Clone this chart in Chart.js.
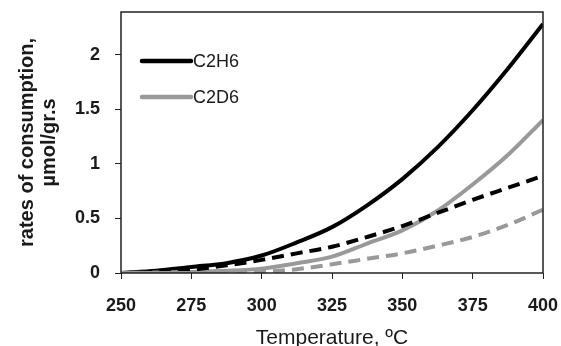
<!DOCTYPE html>
<html>
<head>
<meta charset="utf-8">
<script src="https://cdn.jsdelivr.net/npm/chart.js@4"></script>
<style>
  html, body { margin: 0; padding: 0; background: #fff; }
  #wrap { width: 561px; height: 346px; }
</style>
</head>
<body>
<div id="wrap"><canvas id="chart"></canvas></div>
<script>
// === DATA ===
const temps = [250, 262.5, 275, 287.5, 300, 312.5, 325, 337.5, 350, 362.5, 375, 387.5, 400];
const c2h6 = [0, 0.02, 0.055, 0.09, 0.16, 0.28, 0.42, 0.62, 0.86, 1.15, 1.49, 1.87, 2.28];
const c2d6 = [0, 0.005, 0.01, 0.02, 0.04, 0.09, 0.15, 0.27, 0.39, 0.57, 0.81, 1.08, 1.4];
const c2h6Dash = [0, 0.01, 0.03, 0.07, 0.12, 0.18, 0.24, 0.33, 0.43, 0.55, 0.67, 0.78, 0.89];
const c2d6Dash = [0, 0, 0, 0.005, 0.01, 0.035, 0.08, 0.13, 0.18, 0.25, 0.33, 0.44, 0.58];
const xTicks = [250, 275, 300, 325, 350, 375, 400];
const yTicks = [0, 0.5, 1, 1.5, 2];

const BLACK = '#000000';
const GRAY = '#999999';
const FONT = '"Liberation Sans", Arial, sans-serif';
const pts = arr => arr.map((v, i) => ({ x: temps[i], y: v }));

// === LEGEND + FRAME ===
const framePlugin = {
  id: 'frame',
  afterDatasetsDraw(chart) {
    const { ctx, chartArea: a } = chart;
    ctx.save();
    ctx.strokeStyle = '#222';
    ctx.lineWidth = 1.5;
    ctx.strokeRect(a.left, a.top, a.right - a.left, a.bottom - a.top);

    const items = [{ label: 'C2H6', color: BLACK, y: 61 }, { label: 'C2D6', color: GRAY, y: 97 }];
    ctx.font = '18px ' + FONT;
    ctx.textBaseline = 'middle';
    items.forEach(it => {
      ctx.strokeStyle = it.color;
      ctx.lineWidth = 4.5;
      ctx.lineCap = 'round';
      ctx.beginPath();
      ctx.moveTo(142, it.y);
      ctx.lineTo(191, it.y);
      ctx.stroke();
      ctx.fillStyle = '#1a1a1a';
      ctx.fillText(it.label, 193, it.y + 1);
    });
    ctx.restore();
  }
};

const line = (data, color, dash) => ({
  data: pts(data),
  borderColor: color,
  borderWidth: 4,
  borderDash: dash ? [12, 7] : [],
  pointRadius: 0,
  fill: false,
  cubicInterpolationMode: 'monotone'
});

new Chart(document.getElementById('chart'), {
  type: 'line',
  data: {
    datasets: [
      line(c2d6Dash, GRAY, true),
      line(c2h6Dash, BLACK, true),
      line(c2d6, GRAY, false),
      line(c2h6, BLACK, false)
    ]
  },
  options: {
    responsive: true,
    maintainAspectRatio: false,
    animation: false,
    layout: { padding: { top: 12, right: 18, left: 0, bottom: 0 } },
    plugins: { legend: { display: false }, tooltip: { enabled: false } },
    scales: {
      x: {
        type: 'linear',
        min: 250, max: 400,
        afterBuildTicks: s => { s.ticks = xTicks.map(v => ({ value: v })); },
        afterFit: s => { s.height = 73; s.paddingLeft = 0; s.paddingRight = 0; },
        grid: { drawOnChartArea: false, drawTicks: true, tickLength: 6, color: '#222' },
        border: { display: false },
        ticks: { color: '#1a1a1a', padding: 16, font: { family: FONT, size: 18, weight: 'bold' } },
        title: { display: true, text: 'Temperature, ºC', color: '#1a1a1a', padding: { top: 0, bottom: -5 },
                 font: { family: FONT, size: 21 } }
      },
      y: {
        min: 0, max: 2.39,
        afterBuildTicks: s => { s.ticks = yTicks.map(v => ({ value: v })); },
        afterFit: s => { s.width = 121; s.paddingTop = 0; s.paddingBottom = 0; },
        grid: { drawOnChartArea: false, drawTicks: true, tickLength: 6, color: '#222' },
        border: { display: false },
        ticks: { color: '#1a1a1a', padding: 15, font: { family: FONT, size: 18, weight: 'bold' },
                 callback: v => String(v) },
        title: { display: true, text: ['rates of consumption,', 'µmol/gr.s'], color: '#1a1a1a',
                 padding: { top: 16, bottom: 0 },
                 font: { family: FONT, size: 20, weight: 'bold', lineHeight: 1.1 } }
      }
    }
  },
  plugins: [framePlugin]
});
</script>
</body>
</html>
